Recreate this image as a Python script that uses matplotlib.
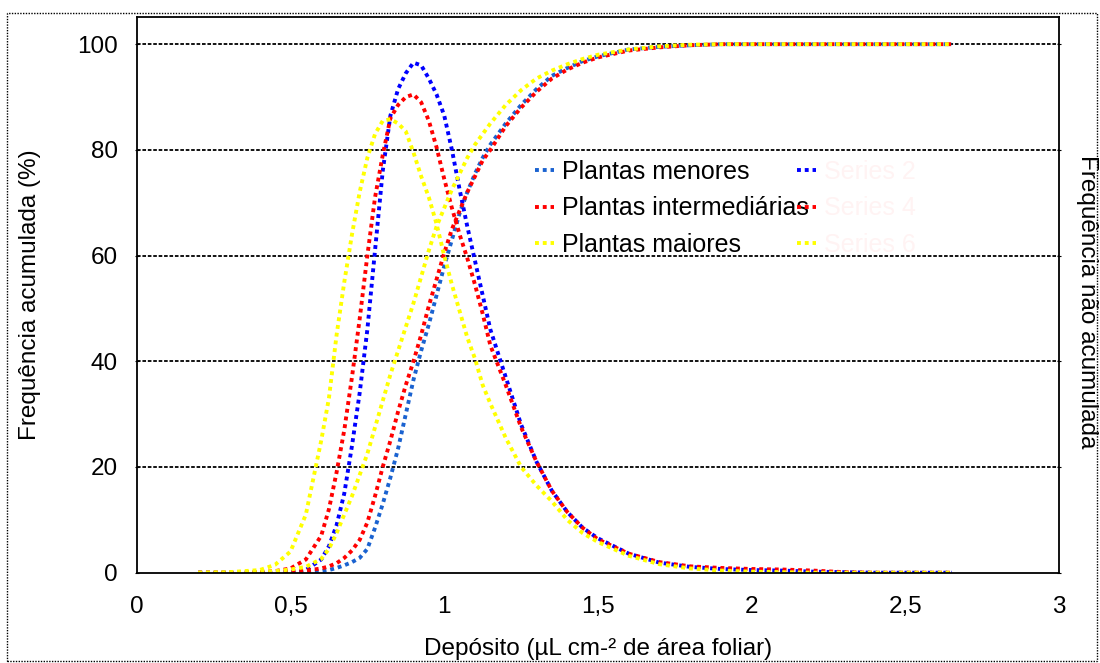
import matplotlib.pyplot as plt
from matplotlib.patches import Rectangle

plt.rcParams['font.family'] = ['Liberation Sans', 'DejaVu Sans']

# deposit (uL cm-2)
deposito = [0.2, 0.3, 0.4, 0.45, 0.5, 0.55, 0.6, 0.625, 0.65, 0.675, 0.7, 0.725, 0.75, 0.775,
            0.8, 0.825, 0.85, 0.875, 0.9, 0.925, 0.95, 0.975, 1.0, 1.025, 1.05, 1.075, 1.1,
            1.125, 1.15, 1.2, 1.25, 1.3, 1.35, 1.4, 1.45, 1.5, 1.6, 1.7, 1.8, 1.9, 2.0, 2.1,
            2.2, 2.3, 2.4, 2.5, 2.65]

# cumulative frequency (%)
menores_acum = [0, 0, 0, 0, 0, 0.1, 0.3, 0.5, 0.9, 1.4, 2.0, 2.8, 4.5, 8.5,
                13, 18, 23.5, 30, 36.5, 42, 47, 52.5, 58, 63, 68, 72, 75.5,
                78.5, 81, 85, 88.5, 91.5, 94, 95.5, 96.8, 97.7, 99, 99.5, 99.8, 100, 100, 100,
                100, 100, 100, 100, 100]
inter_acum = [0, 0, 0, 0.1, 0.2, 0.4, 0.8, 1.2, 1.8, 2.8, 4.2, 6.2, 9.5, 14.5,
              20, 25, 30.5, 35.5, 40, 45, 50.5, 55.5, 60.5, 65, 68.5, 72, 75,
              78, 80, 84.5, 88, 91, 93.5, 95.2, 96.5, 97.5, 98.8, 99.4, 99.8, 100, 100, 100,
              100, 100, 100, 100, 100]
maiores_acum = [0, 0, 0.1, 0.3, 0.6, 1.1, 2.6, 4.5, 7.5, 11, 14.5, 18.5, 22.5, 27.5,
                32.5, 37.5, 42, 46.5, 51, 56, 61, 65.5, 69, 72.5, 75.5, 78.5, 81,
                83, 85, 88.5, 91.3, 93.5, 95, 96.2, 97.2, 98, 99, 99.6, 99.9, 100, 100, 100,
                100, 100, 100, 100, 100]

# non-cumulative frequency (scaled)
menores_nao = [0, 0, 0, 0, 0.1, 0.5, 2.5, 5, 9, 15, 24, 34, 46, 61,
               76, 86.5, 91.5, 94.5, 96.5, 96, 93.5, 90.5, 86.5, 80, 72.5, 65.5, 59,
               52.5, 46, 37, 28, 21, 15.5, 11.5, 8.5, 6.5, 3.6, 1.9, 1.1, 0.7, 0.5, 0.4,
               0.2, 0.1, 0, 0, 0]
inter_nao = [0, 0, 0.1, 0.3, 0.8, 2.5, 7, 12, 19, 27, 37, 48, 60, 71,
             79, 86, 88.5, 90, 90.5, 89, 85.5, 80.5, 74.5, 69, 64, 59.5, 54.5,
             49, 43, 35.5, 27.5, 21, 15.5, 11.5, 8.5, 6.3, 3.6, 2.0, 1.2, 0.9, 0.7, 0.6,
             0.4, 0.1, 0, 0, 0]
maiores_nao = [0, 0.1, 0.5, 1.5, 4, 11, 25, 33, 45, 55, 64, 72, 78.5, 83,
               85.5, 85.8, 85, 83.5, 79.5, 75, 71, 66, 60, 54.5, 49.5, 44.5, 40.5,
               35.5, 32, 25.5, 20, 16.5, 13.5, 10, 7.5, 5.8, 3.2, 1.6, 0.8, 0.4, 0.2, 0.1,
               0, 0, 0, 0, 0]

x_ticks = [0, 0.5, 1, 1.5, 2, 2.5, 3]
x_tick_labels = ['0', '0,5', '1', '1,5', '2', '2,5', '3']
y_ticks = [0, 20, 40, 60, 80, 100]

fig = plt.figure(figsize=(11, 6.63), dpi=100)
ax = fig.add_axes([136.7 / 1100, 1 - 572.7 / 663, (1059.3 - 136.7) / 1100, (572.7 - 16.7) / 663])

dots = (0, (1, 1))
lw = 2.8
l1, = ax.plot(deposito, menores_acum, color='#1a62d0', lw=lw, ls=dots)
l2, = ax.plot(deposito, menores_nao, color='#0000ff', lw=lw, ls=dots)
l3, = ax.plot(deposito, inter_acum, color='#ff0000', lw=lw, ls=dots)
l4, = ax.plot(deposito, inter_nao, color='#ff0000', lw=lw, ls=dots)
l5, = ax.plot(deposito, maiores_acum, color='#ffff00', lw=lw, ls=dots)
l6, = ax.plot(deposito, maiores_nao, color='#ffff00', lw=lw, ls=dots)

ax.set_xlim(0, 3)
ax.set_ylim(0, 105.2)
ax.set_xticks(x_ticks)
ax.set_xticklabels(x_tick_labels)
ax.set_yticks(y_ticks)
ax.tick_params(axis='x', length=0, pad=17, labelsize=17.5)
ax.tick_params(axis='y', length=3, direction='inout', pad=12, labelsize=17.5, right=True)

for y in y_ticks[1:]:
    ax.axhline(y, color='black', lw=1.3, ls=(0, (2, 1)), zorder=0)
for s in ax.spines.values():
    s.set_linestyle((0, (2, 1)))
    s.set_linewidth(1.3)

ax.set_xlabel('Depósito (µL cm-² de área foliar)', fontsize=17.5, labelpad=14)
ax.set_ylabel('Frequência acumulada (%)', fontsize=17.5, labelpad=26)
fig.text(1087 / 1100, 1 - 302 / 663, 'Frequência não acumulada', fontsize=17.5,
         rotation=270, ha='center', va='center')

leg_kw = dict(loc='upper left', frameon=False, fontsize=18, handlelength=0.75,
              handletextpad=0.3, labelspacing=0.49, borderpad=0, borderaxespad=0)
leg1 = ax.legend([l1, l3, l5], ['Plantas menores', 'Plantas intermediárias', 'Plantas maiores'],
                 bbox_to_anchor=(0.432, 0.742), **leg_kw)
ax.add_artist(leg1)
leg2 = ax.legend([l2, l4, l6], ['Series 2', 'Series 4', 'Series 6'],
                 bbox_to_anchor=(0.716, 0.742), **leg_kw)
for t in leg2.get_texts():
    t.set_color('#fff3f3')

fig.add_artist(Rectangle((7 / 1100, 1 - 661 / 663), 1090 / 1100, (661 - 12.7) / 663,
                         transform=fig.transFigure, fill=False, lw=1, ls=(0, (1, 1)),
                         color='black'))

fig.savefig('out.png', dpi=100)
